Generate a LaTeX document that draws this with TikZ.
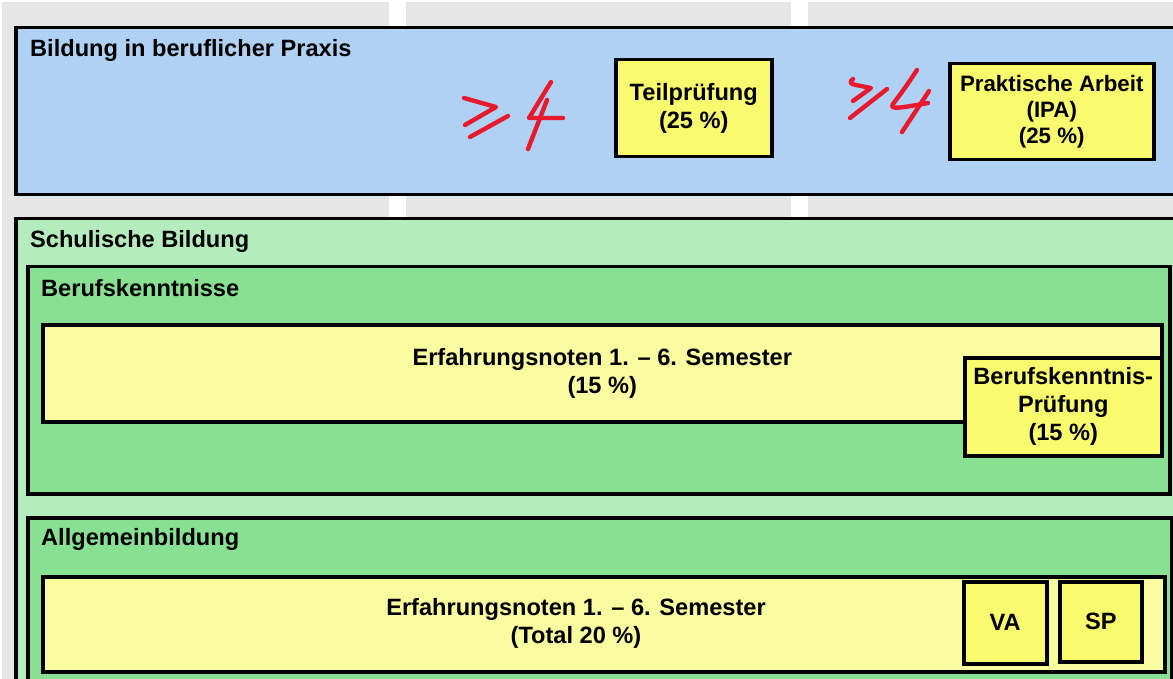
\documentclass[tikz,border=0pt]{standalone}
\usepackage{fontspec}
\setmainfont{Liberation Sans}
\definecolor{bgGray}{RGB}{230,230,230}
\definecolor{praxisBlue}{RGB}{175,210,244}
\definecolor{schulGreen}{RGB}{181,236,189}
\definecolor{midGreen}{RGB}{136,225,147}
\definecolor{paleYellow}{RGB}{250,252,160}
\definecolor{brightYellow}{RGB}{249,250,110}
\definecolor{markRed}{RGB}{232,25,44}
\newcommand{\boxfont}{\fontsize{23.6}{28}\selectfont\bfseries}
\begin{document}
\begin{tikzpicture}[x=1pt,y=-1pt,
  frame/.style={draw=black, line width=3.5pt, inner sep=0pt, anchor=north west},
  title/.style={anchor=west, inner sep=0pt, font=\boxfont},
  plain/.style={inner sep=0pt, align=center, font=\boxfont},
  card/.style={frame, fill=brightYellow, align=center, font=\boxfont},
  handmark/.style={draw=markRed, line width=4.4pt, line cap=round, line join=round}]
\useasboundingbox (0,0) rectangle (1173,679);
\clip (0,0) rectangle (1173,679);
% background columns
\fill[white] (0,0) rectangle (1173,679);
\fill[bgGray] (2,2) rectangle (389,679);
\fill[bgGray] (406,2) rectangle (791,679);
\fill[bgGray] (808,2) rectangle (1173,679);
% Bildung in beruflicher Praxis
\node[frame, fill=praxisBlue, minimum width=1176pt, minimum height=167pt] (praxis) at (14,26) {};
\node[title] (praxisT) at (30,50) {Bildung in beruflicher Praxis};
\node[card, minimum width=156pt, minimum height=97pt] (teil) at (614,58) {Teilprüfung\\(25 \%)};
\node[card, minimum width=204pt, minimum height=96pt, font=\fontsize{22.3}{26}\selectfont\bfseries] (ipa) at (948,62) {Praktische Arbeit\\(IPA)\\(25 \%)};
% handwritten marks
\path[handmark] (464,98) -- (496,107) -- (465,125);
\path[handmark] (470,137) -- (508,116);
\path[handmark] (551,82) .. controls (540,100) .. (529,118) -- (563,118);
\path[handmark] (547,100) -- (528,149);
\path[handmark] (853,79) .. controls (849,82) and (850,84) .. (856,85) -- (871,88) -- (853,101);
\path[handmark] (850,118) -- (887,89);
\path[handmark] (917,70) .. controls (905,88) .. (893,104) .. controls (889,110) and (900,108) .. (928,103);
\path[handmark] (929,91) -- (902,132);
% Schulische Bildung
\node[frame, fill=schulGreen, minimum width=1176pt, minimum height=503pt] (schul) at (14,217) {};
\node[title] (schulT) at (30,241) {Schulische Bildung};
% Berufskenntnisse
\node[frame, fill=midGreen, minimum width=1142pt, minimum height=227pt] (beruf) at (26,265) {};
\node[title] (berufT) at (41,288) {Berufskenntnisse};
\node[frame, fill=paleYellow, minimum width=1119pt, minimum height=97pt, align=center, font=\boxfont] (erf1) at (41,323) {Erfahrungsnoten 1. – 6. Semester\\(15 \%)};
\node[card, minimum width=197pt, minimum height=98pt] (bkp) at (963,356) {Berufskenntnis-\\Prüfung\\(15 \%)};
% Allgemeinbildung
\node[frame, fill=midGreen, minimum width=1144pt, minimum height=204pt] (allg) at (26,516) {};
\node[title] (allgT) at (41,539) {Allgemeinbildung};
\node[frame, fill=paleYellow, minimum width=1122pt, minimum height=95pt] (erf2) at (41,575) {};
\node[plain] (erf2T) at (576,623) {Erfahrungsnoten 1. – 6. Semester\\(Total 20 \%)};
\node[card, minimum width=83pt, minimum height=82pt] (va) at (962,580) {VA};
\node[card, minimum width=82pt, minimum height=80pt] (sp) at (1058,580) {SP};
\end{tikzpicture}
\end{document}
